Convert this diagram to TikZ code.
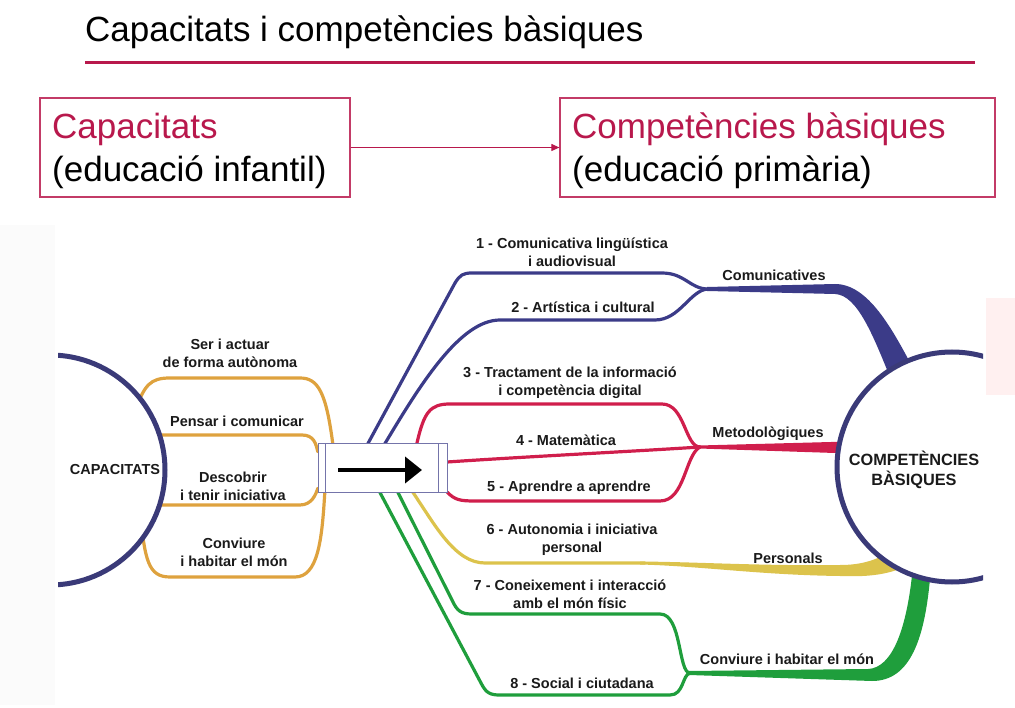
\documentclass[tikz,border=0pt]{standalone}
\usepackage{fontspec}
\setmainfont{Liberation Sans}
\usetikzlibrary{arrows.meta}
\definecolor{crim}{HTML}{B8184C}
\definecolor{navy}{HTML}{3B3B88}
\definecolor{cnavy}{HTML}{3A3A78}
\definecolor{rline}{HTML}{D01E4C}
\definecolor{oline}{HTML}{DEA23E}
\definecolor{yline}{HTML}{DCC34C}
\definecolor{gline}{HTML}{1F9E3C}
\definecolor{boxb}{HTML}{7474AA}
\definecolor{txt}{HTML}{1A1A1A}
\begin{document}
\begin{tikzpicture}[x=1pt,y=-1pt,
  lbl/.style={font=\fontsize{14.5}{18}\selectfont\bfseries, text=txt, align=center, inner sep=0pt},
  big/.style={font=\fontsize{35}{42}\selectfont, inner sep=0pt, anchor=base west},
  topbox/.style={draw=crim!85, line width=1.2pt, inner sep=0pt},
  branch/.style={line width=3.2pt, line cap=round, line join=round},
  ring/.style={draw=cnavy, line width=5pt}
]
\useasboundingbox (0,0) rectangle (1015,708);
% faint slide background patches
\fill[gray!3] (0,225) rectangle (55,705);
\fill[red!6] (986,298) rectangle (1015,395);

% title
\node[big] (title) at (85,42) {Capacitats i competències bàsiques};
\coordinate (ruleA) at (85,63);
\coordinate (ruleB) at (975,63);
\draw[crim, line width=3pt] (ruleA) -- (ruleB);

% top boxes
\node[topbox, minimum width=310pt, minimum height=99pt] (boxL) at (195,147.5) {};
\node[topbox, minimum width=435pt, minimum height=99pt] (boxR) at (777.5,147.5) {};
\node[big, text=crim] (capT) at (52,139) {Capacitats};
\node[big, text=black] (capS) at (52,182) {(educació infantil)};
\node[big, text=crim] (comT) at (572,139) {Competències bàsiques};
\node[big, text=black] (comS) at (572,182) {(educació primària)};
\draw[crim, line width=1pt, -{Triangle[length=8pt,width=7pt]}] (boxL.east) -- (boxR.west);

% process box (position only, drawn later)
\path node[minimum width=129pt, minimum height=48pt, inner sep=0pt] (proc) at (382.5,468) {};

% junctions
\coordinate (J1) at (708,289);
\coordinate (J2) at (700,447);
\coordinate (J4) at (690,673);

% orange branches (capacitats)
\draw[branch, oline] (135,410) .. controls (145,385) and (150,378) .. (170,378) -- (300,378) .. controls (318,378) and (326,392) .. ([xshift=15pt]proc.north west);
\draw[branch, oline] (130,435) -- (302,435) .. controls (314,435) and (316,444) .. ([yshift=-8pt]proc.north west);
\draw[branch, oline] (130,505) -- (300,505) .. controls (312,505) and (316,494) .. ([yshift=4pt]proc.south west);
\draw[branch, oline] (140,512) .. controls (145,560) and (148,577) .. (170,577) -- (295,577) .. controls (318,577) and (322,540) .. ([xshift=7pt]proc.south west);

% blue branches
\draw[branch, navy] ([xshift=50pt]proc.north west) -- (455,283) .. controls (460,275) and (463,273) .. (472,273) -- (662,273) .. controls (685,273) and (690,289) .. (J1);
\draw[branch, navy] ([xshift=67pt]proc.north west) .. controls (420,385) and (460,320) .. (500,320) -- (655,320) .. controls (680,320) and (690,290) .. (J1);
\fill[navy] (707,287) -- (835,284) .. controls (868,284) and (892,328) .. (915,372) -- (892,382) .. controls (874,338) and (858,295) .. (835,294) -- (707,291) -- cycle;

% red branches
\draw[branch, rline] ([xshift=99pt]proc.north west) .. controls (424,412) and (430,404) .. (450,404) -- (662,404) .. controls (685,404) and (685,447) .. (J2);
\draw[branch, rline] ([yshift=6pt]proc.east) .. controls (520,457) and (640,451) .. (J2);
\draw[branch, rline] (proc.south east) .. controls (455,500) and (460,501) .. (475,501) -- (660,501) .. controls (685,501) and (685,455) .. (J2);
\fill[rline] (699,445.5) -- (850,441.5) -- (850,453.5) -- (699,448.5) -- cycle;

% yellow branch
\draw[branch, yline] ([xshift=95pt]proc.south west) .. controls (435,525) and (455,563) .. (485,563) -- (645,563);
\fill[yline] (640,561.5) .. controls (700,562) and (760,566) .. (840,565) .. controls (862,565) and (878,560) .. (896,548) -- (902,568) .. controls (885,575) and (866,577) .. (840,576) .. controls (760,575) and (700,566) .. (640,564.5) -- cycle;

% green branches
\draw[branch, gline] ([xshift=80pt]proc.south west) -- (452,600) .. controls (457,611) and (461,614) .. (472,614) -- (660,614) .. controls (682,614) and (678,673) .. (J4);
\draw[branch, gline] ([xshift=62pt]proc.south west) -- (481,683) .. controls (486,693) and (490,695) .. (500,695) -- (670,695) .. controls (684,695) and (682,675) .. (J4);
\fill[gline] (689,671) -- (868,669) .. controls (892,668) and (907,630) .. (913,566) -- (931,566) .. controls (926,640) and (910,681) .. (872,681) -- (689,675) -- cycle;

% circles
\node[circle, minimum size=230pt, inner sep=0pt] (capC) at (50,470) {};
\node[circle, minimum size=230pt, inner sep=0pt] (cbC) at (952,467) {};
\begin{scope}
  \clip (58,330) rectangle (200,610);
  \fill[white] (capC.center) circle[radius=115pt];
  \draw[ring] (capC.center) circle[radius=115pt];
\end{scope}
\begin{scope}
  \clip (800,320) rectangle (983,620);
  \fill[white] (cbC.center) circle[radius=115pt];
  \draw[ring] (cbC.center) circle[radius=115pt];
\end{scope}

% process box with arrow
\node[draw=boxb, fill=white, line width=1pt, minimum width=129pt, minimum height=48pt, inner sep=0pt] (procbox) at (proc.center) {};
\draw[boxb, line width=1pt] ([xshift=8pt]procbox.north west) -- ([xshift=8pt]procbox.south west);
\draw[boxb, line width=1pt] ([xshift=-9pt]procbox.north east) -- ([xshift=-9pt]procbox.south east);
\coordinate (arA) at (338,470);
\coordinate (arB) at (422,470);
\draw[black, line width=4pt, -{Triangle[length=17pt,width=26pt]}] (arA) -- (arB);

% labels
\node[lbl] (capL) at (115,470) {CAPACITATS};
\node[lbl, font=\fontsize{16.3}{20}\selectfont\bfseries] (cbL) at (914,470) {COMPETÈNCIES\\BÀSIQUES};
\node[lbl] (o1) at (230,353) {Ser i actuar\\de forma autònoma};
\node[lbl] (o2) at (237,421) {Pensar i comunicar};
\node[lbl] (o3) at (233,486) {Descobrir\\i tenir iniciativa};
\node[lbl] (o4) at (234,552) {Conviure\\i habitar el món};
\node[lbl] (l1) at (572,252) {1 - Comunicativa lingüística\\i audiovisual};
\node[lbl] (l2) at (583,307) {2 - Artística i cultural};
\node[lbl] (l3) at (570,383) {3 - Tractament de la informació\\i competència digital};
\node[lbl] (l4) at (566,440) {4 - Matemàtica};
\node[lbl] (l5) at (569,488) {5 - Aprendre a aprendre};
\node[lbl] (l6) at (572,540) {6 - Autonomia i iniciativa\\personal};
\node[lbl] (l7) at (570,594) {7 - Coneixement i interacció\\amb el món físic};
\node[lbl] (l8) at (582,683) {8 - Social i ciutadana};
\node[lbl] (g1) at (774,275) {Comunicatives};
\node[lbl] (g2) at (768,434) {Metodològiques};
\node[lbl] (g3) at (788,558) {Personals};
\node[lbl] (g4) at (787,659) {Conviure i habitar el món};
\end{tikzpicture}
\end{document}
